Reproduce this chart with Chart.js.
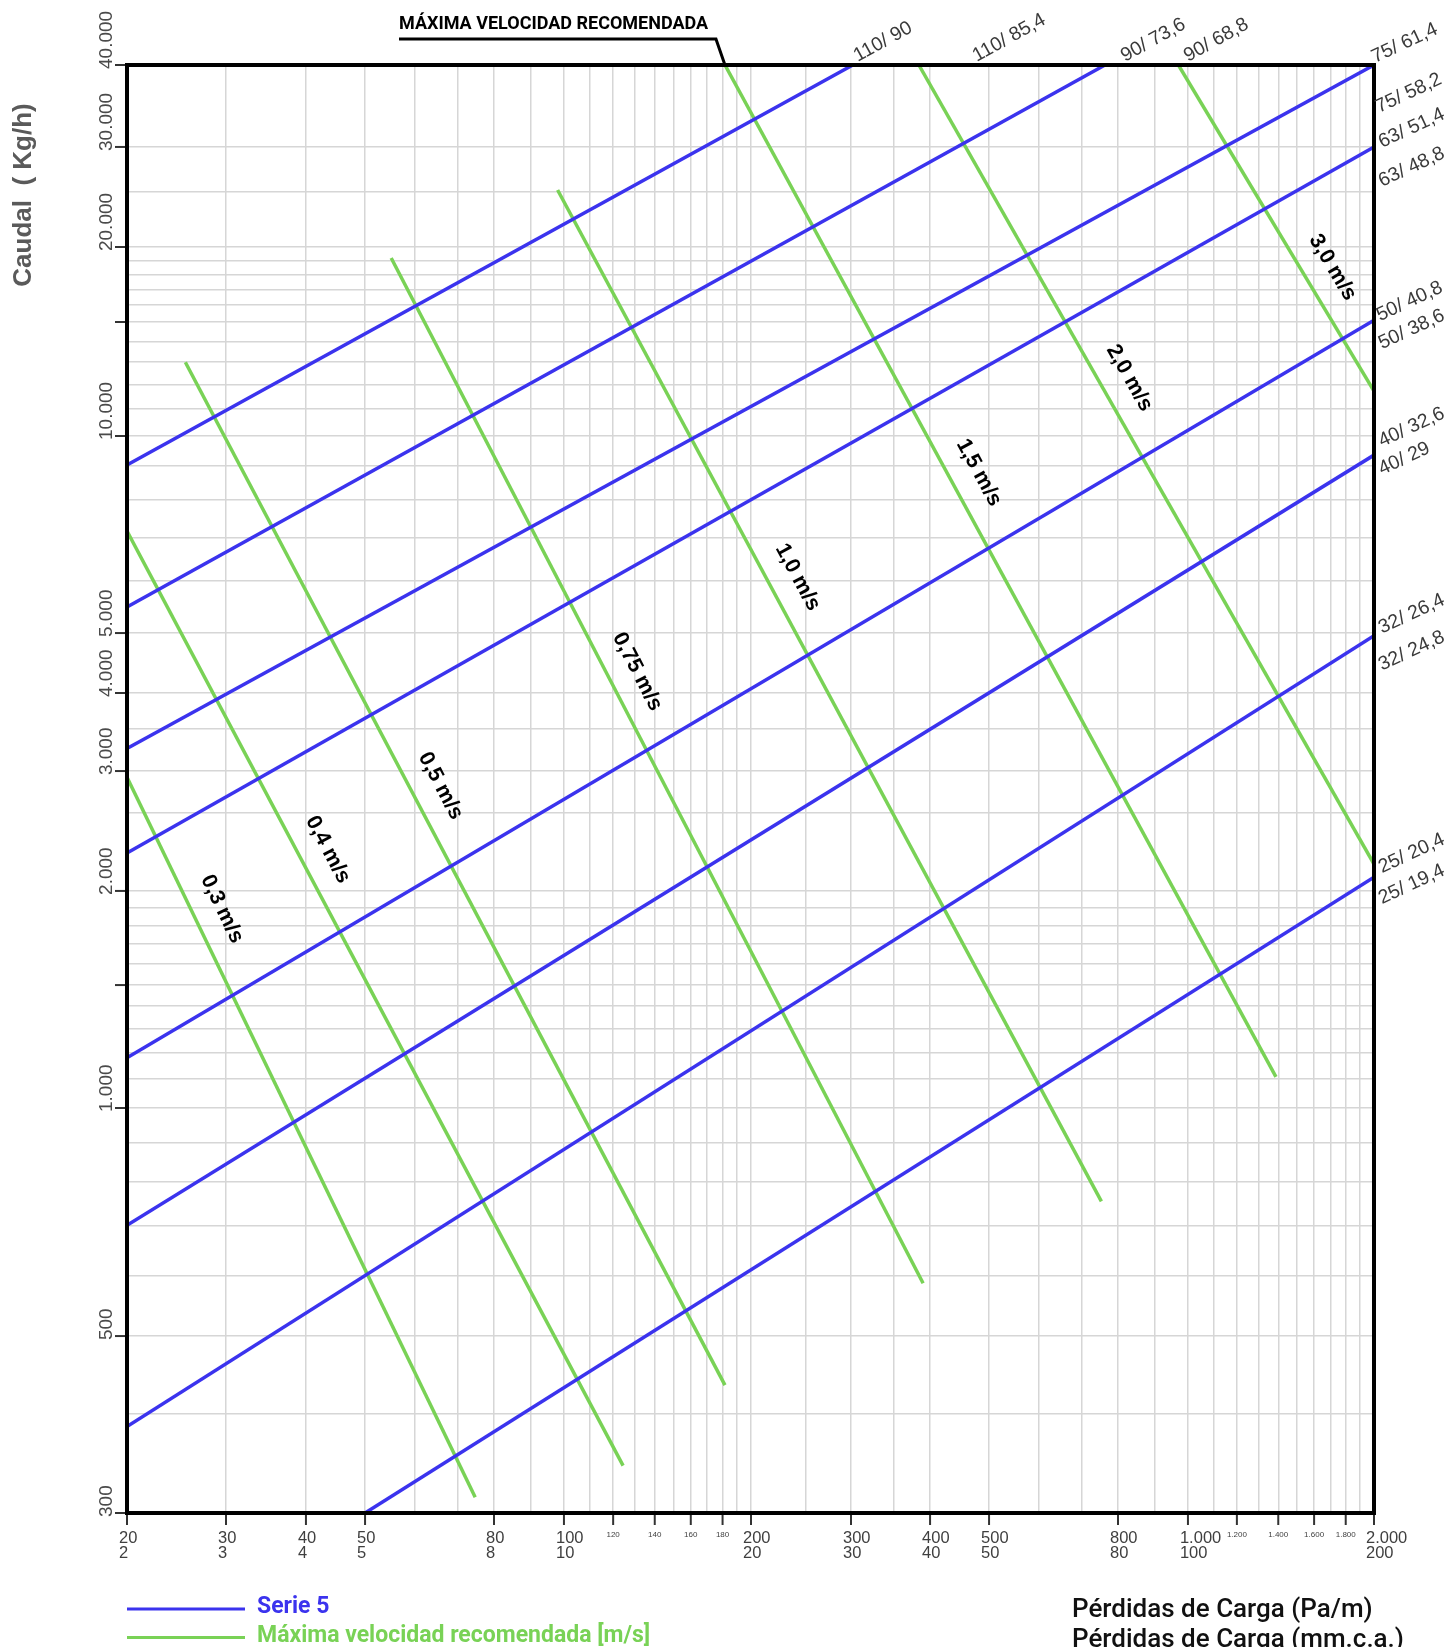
<!DOCTYPE html>
<html>
<head>
<meta charset="utf-8">
<title>Serie 5 - pérdidas de carga</title>
<script src="https://cdn.jsdelivr.net/npm/chart.js@4.4.1/dist/chart.umd.min.js"></script>
<style>
  html, body { margin: 0; padding: 0; background: #fff; }
  #wrap { width: 1454px; height: 1647px; }
</style>
</head>
<body>
<div id="wrap"><canvas id="js--grafico" width="1454" height="1647"></canvas></div>
<script>
// Serie 5 pipes: outer diameter and the two inner diameters written at the end of each line
const pipeSizes = ['110', '90', '75', '63', '50', '40', '32', '25'];
const innerA = ['90', '73,6', '61,4', '51,4', '40,8', '32,6', '26,4', '20,4'];
const innerB = ['85,4', '68,8', '58,2', '48,8', '38,6', '29', '24,8', '19,4'];
// ends of each pipe line: pressure loss (Pa/m) and flow (Kg/h)
const pipeLossStart = [20, 20, 20, 20, 20, 20, 20, 50];
const pipeFlowStart = [9030, 5480, 3260, 2230, 1180, 700, 385, 300];
const pipeLossEnd = [302, 763, 2000, 2000, 2000, 2000, 2000, 2000];
const pipeFlowEnd = [40000, 40000, 40000, 30000, 15100, 9350, 4950, 2080];

// recommended max velocity lines (m/s)
const velocities = ['0,3', '0,4', '0,5', '0,75', '1,0', '1,5', '2,0', '3,0'];
const velLossStart = [20, 20, 25.4, 55, 98, 181.6, 384, 970];
const velFlowStart = [2920, 7160, 13000, 19170, 25200, 40000, 40000, 40000];
const velLossEnd = [74.7, 124.5, 181.6, 390, 753, 1388, 2000, 2000];
const velFlowEnd = [314, 344, 434, 587, 753, 1108, 2160, 11730];

// axis ticks
const xTickVals = [20, 30, 40, 50, 80, 100, 120, 140, 160, 180, 200, 300, 400, 500, 800, 1000, 1200, 1400, 1600, 1800, 2000];
const xTickPa = ['20', '30', '40', '50', '80', '100', '120', '140', '160', '180', '200', '300', '400', '500', '800', '1.000', '1.200', '1.400', '1.600', '1.800', '2.000'];
const xTickMm = ['2', '3', '4', '5', '8', '10', '', '', '', '', '20', '30', '40', '50', '80', '100', '', '', '', '', '200'];
const yTickVals = [300, 500, 1000, 1500, 2000, 3000, 4000, 5000, 10000, 15000, 20000, 30000, 40000];
const yTickText = ['300', '500', '1.000', '', '2.000', '3.000', '4.000', '5.000', '10.000', '', '20.000', '30.000', '40.000'];

// grid lines
const xGrid = [20, 30, 40, 50, 60, 70, 80, 90, 100, 110, 120, 130, 140, 150, 160, 170, 180, 190, 200, 250, 300, 350, 400,
  500, 600, 700, 800, 900, 1000, 1100, 1200, 1300, 1400, 1500, 1600, 1700, 1800, 1900, 2000];
const yGrid = [300, 400, 500, 600, 700, 800, 900, 1000, 1100, 1200, 1300, 1400, 1500, 1600, 1700, 1800, 1900, 2000, 2500,
  3000, 3500, 4000, 5000, 6000, 7000, 8000, 9000, 10000, 11000, 12000, 13000, 14000, 15000, 16000, 17000, 18000, 19000,
  20000, 25000, 30000, 40000];

// the printed chart is not a clean log-log paper: where each decade mark sits along the axis (0..1)
const axisMarks = {
  x: [[20, 0], [30, 0.0794], [40, 0.1435], [50, 0.1909], [80, 0.2943], [100, 0.3504], [200, 0.5004], [300, 0.5806],
    [400, 0.644], [500, 0.6913], [800, 0.7947], [1000, 0.8508], [2000, 1]],
  y: [[300, 0], [500, 0.1222], [1000, 0.2797], [1500, 0.3646], [2000, 0.4296], [2500, 0.4834], [3000, 0.5124],
    [4000, 0.5663], [5000, 0.6077], [10000, 0.7438], [15000, 0.8225], [20000, 0.8743], [30000, 0.9434], [40000, 1]]
};

const blue = '#3b33ee';
const green = '#79d256';
const sans = '"Liberation Sans", Arial, sans-serif';

class PaperLogScale extends Chart.LogarithmicScale {
  static id = 'paperlog';
  static defaults = {};

  toDecimal(value) {
    const marks = axisMarks[this.axis];
    const lv = Math.log10(value);
    let i = 1;
    while (i < marks.length - 1 && lv > Math.log10(marks[i][0])) i++;
    const a = marks[i - 1], b = marks[i];
    const la = Math.log10(a[0]), lb = Math.log10(b[0]);
    return a[1] + (lv - la) / (lb - la) * (b[1] - a[1]);
  }

  getPixelForValue(value) {
    if (value === undefined || value === 0) value = this.min;
    if (value === null || isNaN(value)) return NaN;
    return this.getPixelForDecimal(this.toDecimal(value));
  }

  getValueForPixel(pixel) {
    const marks = axisMarks[this.axis];
    const dec = this.getDecimalForPixel(pixel);
    let i = 1;
    while (i < marks.length - 1 && dec > marks[i][1]) i++;
    const a = marks[i - 1], b = marks[i];
    const la = Math.log10(a[0]), lb = Math.log10(b[0]);
    return Math.pow(10, la + (dec - a[1]) / (b[1] - a[1]) * (lb - la));
  }
}
Chart.register(PaperLogScale);

const datasets = [];
pipeSizes.forEach((size, i) => {
  datasets.push({
    label: size,
    data: [{ x: pipeLossStart[i], y: pipeFlowStart[i] }, { x: pipeLossEnd[i], y: pipeFlowEnd[i] }],
    borderColor: blue,
    borderWidth: 3.5
  });
});
velocities.forEach((v, i) => {
  datasets.push({
    label: v + ' m/s',
    data: [{ x: velLossStart[i], y: velFlowStart[i] }, { x: velLossEnd[i], y: velFlowEnd[i] }],
    borderColor: green,
    borderWidth: 3.5
  });
});

// where the velocity label sits along its line (0 = top end)
const velLabelAt = [0.2, 0.355, 0.427, 0.416, 0.396, 0.416, 0.409, 0.665];
// [dx1, dy1, dx2, dy2] of the two diameter labels from the end of each pipe line, and their angle
const pipeLabelOffsets = [[5, -3, 124, -3], [20, -3, 83, -3], [1, -2, 5, 48], [8, 1, 8, 40], [6, 1, 8, 29],
  [8, -8, 8, 20], [8, -2, 8, 35], [8, -4, 8, 27]];
const pipeLabelAngle = [29, 29, 25, 25, 25, 25, 25, 25];

const paperPlugin = {
  id: 'paper',
  afterDraw(chart) {
    const ctx = chart.ctx;
    const area = chart.chartArea;
    const xs = chart.scales.x;
    const ys = chart.scales.y;
    ctx.save();

    // frame
    ctx.strokeStyle = '#000';
    ctx.lineWidth = 4;
    ctx.strokeRect(area.left, area.top, area.right - area.left, area.bottom - area.top);

    // x ticks and labels (Pa/m over mm.c.a.)
    ctx.strokeStyle = '#333';
    ctx.fillStyle = '#3f3f3f';
    ctx.lineWidth = 2;
    xTickVals.forEach((v, i) => {
      const px = xs.getPixelForValue(v);
      ctx.beginPath();
      ctx.moveTo(px, area.bottom + 2);
      ctx.lineTo(px, area.bottom + 12);
      ctx.stroke();
      if (xTickMm[i]) {
        ctx.font = '16.5px ' + sans;
        ctx.textAlign = 'left';
        ctx.fillText(xTickPa[i], px - 8, area.bottom + 30);
        ctx.fillText(xTickMm[i], px - 8, area.bottom + 45);
      } else {
        ctx.font = '8px ' + sans;
        ctx.textAlign = 'center';
        ctx.fillText(xTickPa[i], px, area.bottom + 24);
      }
    });

    // y ticks and rotated labels
    ctx.fillStyle = '#4a4a4a';
    ctx.font = '19px ' + sans;
    yTickVals.forEach((v, i) => {
      const py = ys.getPixelForValue(v);
      ctx.beginPath();
      ctx.moveTo(area.left - 12, py);
      ctx.lineTo(area.left - 2, py);
      ctx.stroke();
      if (yTickText[i]) {
        ctx.save();
        ctx.translate(area.left - 15, py + 4);
        ctx.rotate(-Math.PI / 2);
        ctx.textAlign = 'left';
        ctx.textBaseline = 'alphabetic';
        ctx.fillText(yTickText[i], 0, 0);
        ctx.restore();
      }
    });

    // y axis title
    ctx.save();
    ctx.translate(24, 195);
    ctx.rotate(-Math.PI / 2);
    ctx.font = 'bold 26px ' + sans;
    ctx.fillStyle = '#5a5a5a';
    ctx.textAlign = 'center';
    ctx.textBaseline = 'middle';
    ctx.fillText('Caudal  ( Kg/h)', 0, 0);
    ctx.restore();

    // diameter labels at the end of each pipe line
    ctx.fillStyle = '#3a3a3a';
    ctx.font = '19.5px ' + sans;
    ctx.textAlign = 'left';
    ctx.textBaseline = 'alphabetic';
    pipeSizes.forEach((size, i) => {
      const ex = xs.getPixelForValue(pipeLossEnd[i]);
      const ey = ys.getPixelForValue(pipeFlowEnd[i]);
      const off = pipeLabelOffsets[i];
      const ang = -pipeLabelAngle[i] * Math.PI / 180;
      [[off[0], off[1], innerA[i]], [off[2], off[3], innerB[i]]].forEach(([dx, dy, inner]) => {
        ctx.save();
        ctx.translate(ex + dx, ey + dy);
        ctx.rotate(ang);
        ctx.fillText(size + '/ ' + inner, 0, 0);
        ctx.restore();
      });
    });

    // velocity labels along the green lines
    ctx.fillStyle = '#000';
    ctx.font = 'bold 21.5px ' + sans;
    ctx.textAlign = 'center';
    ctx.textBaseline = 'middle';
    velocities.forEach((v, i) => {
      const x0 = xs.getPixelForValue(velLossStart[i]);
      const y0 = ys.getPixelForValue(velFlowStart[i]);
      const x1 = xs.getPixelForValue(velLossEnd[i]);
      const y1 = ys.getPixelForValue(velFlowEnd[i]);
      const len = Math.hypot(x1 - x0, y1 - y0);
      const ux = (x1 - x0) / len, uy = (y1 - y0) / len;
      const t = velLabelAt[i];
      const cx = x0 + (x1 - x0) * t + uy * 28;
      const cy = y0 + (y1 - y0) * t - ux * 28;
      ctx.save();
      ctx.translate(cx, cy);
      ctx.rotate(Math.atan2(uy, ux));
      ctx.fillText(v + ' m/s', 0, 0);
      ctx.restore();
    });

    // call-out for the recommended max velocity
    const tipX = xs.getPixelForValue(velLossStart[5]);
    ctx.strokeStyle = '#000';
    ctx.lineWidth = 3;
    ctx.beginPath();
    ctx.moveTo(399, 39);
    ctx.lineTo(tipX - 9, 39);
    ctx.lineTo(tipX, area.top);
    ctx.stroke();
    ctx.fillStyle = '#000';
    ctx.font = 'bold 18px Roboto, ' + sans;
    ctx.textAlign = 'left';
    ctx.textBaseline = 'alphabetic';
    ctx.fillText('MÁXIMA VELOCIDAD RECOMENDADA', 399, 29);

    // legend
    ctx.lineWidth = 3;
    ctx.strokeStyle = blue;
    ctx.beginPath();
    ctx.moveTo(127, 1609);
    ctx.lineTo(245, 1609);
    ctx.stroke();
    ctx.strokeStyle = green;
    ctx.beginPath();
    ctx.moveTo(127, 1637.5);
    ctx.lineTo(245, 1637.5);
    ctx.stroke();
    ctx.font = 'bold 23px Roboto, ' + sans;
    ctx.fillStyle = blue;
    ctx.fillText('Serie 5', 257, 1613);
    ctx.fillStyle = green;
    ctx.fillText('Máxima velocidad recomendada [m/s]', 257, 1642);

    // x axis title
    ctx.fillStyle = '#111';
    ctx.font = '500 26px Roboto, ' + sans;
    ctx.fillText('Pérdidas de Carga (Pa/m)', 1072, 1617);
    ctx.fillText('Pérdidas de Carga (mm.c.a.)', 1072, 1647);

    ctx.restore();
  }
};

const config = {
  type: 'scatter',
  data: { datasets: datasets },
  options: {
    responsive: false,
    animation: false,
    showLine: true,
    elements: {
      point: { radius: 0, hoverRadius: 0 },
      line: { tension: 0, borderCapStyle: 'butt' }
    },
    layout: { padding: { left: 127, top: 65, right: 80, bottom: 134 } },
    plugins: {
      legend: { display: false },
      tooltip: { enabled: false }
    },
    scales: {
      x: {
        type: 'paperlog',
        min: 20,
        max: 2000,
        afterBuildTicks: (scale) => { scale.ticks = xGrid.map(v => ({ value: v })); },
        ticks: { display: false, autoSkip: false },
        grid: { color: '#d6d6d6', lineWidth: 1.5, drawTicks: false },
        border: { display: false }
      },
      y: {
        type: 'paperlog',
        min: 300,
        max: 40000,
        afterBuildTicks: (scale) => { scale.ticks = yGrid.map(v => ({ value: v })); },
        ticks: { display: false, autoSkip: false },
        grid: { color: '#d6d6d6', lineWidth: 1.5, drawTicks: false },
        border: { display: false }
      }
    }
  },
  plugins: [paperPlugin]
};

const chart1 = new Chart(document.getElementById('js--grafico'), config);
</script>
</body>
</html>
